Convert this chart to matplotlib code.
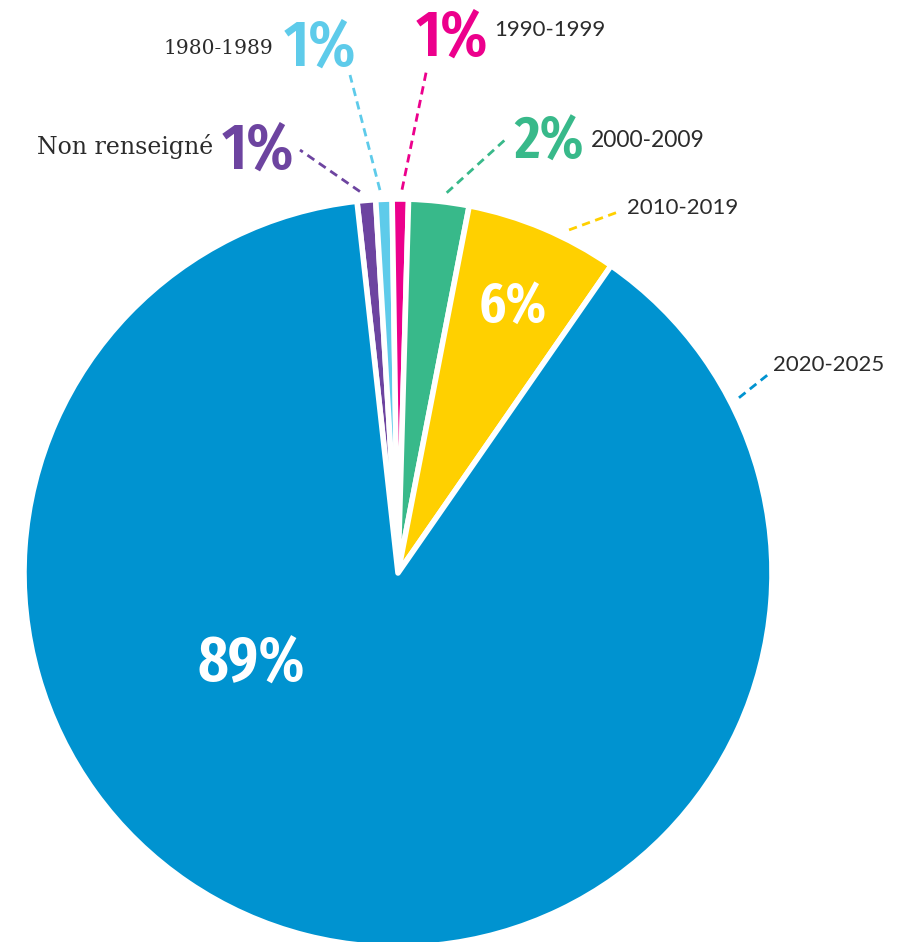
import os
import numpy as np
import matplotlib
matplotlib.use("Agg")
import matplotlib.pyplot as plt
from matplotlib import font_manager
from matplotlib.font_manager import FontProperties

# slices, clockwise from just left of 12 o'clock
categories = ["Non renseigné", "1980-1989", "1990-1999", "2000-2009", "2010-2019", "2020-2025"]
shares = [0.8, 0.7, 0.7, 2.6, 6.6, 88.6]
pct_labels = ["1%", "1%", "1%", "2%", "6%", "89%"]
colors = ["#6D44A0", "#5ECBEA", "#EC008C", "#38B98A", "#FFD000", "#0093D0"]

W, H = 909, 942
cx, cy, R = 398, H - 573, 374


def find_condensed():
    # look for a narrow, fairly heavy face among the installed files
    wanted = [("extracondensed", "semibold"), ("extracondensed", "medium"),
              ("extracondensed", "bold"), ("narrow", "bold"), ("condensed", "semibold"),
              ("condensed", "bold")]
    files = [f.fname for f in font_manager.fontManager.ttflist]
    for width, weight in wanted:
        for fname in sorted(files):
            fn = os.path.basename(fname).lower()
            if "italic" in fn or "oblique" in fn:
                continue
            if width == "condensed" and ("extra" in fn or "semicondensed" in fn):
                continue
            if width not in fn or weight not in fn:
                continue
            if weight == "bold" and ("semibold" in fn or "extrabold" in fn):
                continue
            return fname
    return None


found = find_condensed()
if found is not None:
    pct_fp = FontProperties(fname=found)
    pct_scale = 1.1
else:
    pct_fp = FontProperties(family="DejaVu Sans", weight="bold")
    pct_scale = 0.75

fig = plt.figure(figsize=(W / 100, H / 100), dpi=100)
ax = fig.add_axes([0, 0, 1, 1])

wedges, _ = ax.pie(shares, colors=colors, startangle=96.3, counterclock=False,
                   center=(cx, cy), radius=R, frame=True,
                   wedgeprops=dict(edgecolor="white", linewidth=4, joinstyle="round"))
ax.set_xlim(0, W)
ax.set_ylim(0, H)
ax.set_aspect("equal")
ax.axis("off")

# leader lines: start angle (deg clockwise from top), end point in px from top-left
lead_angle = [-5.7, -2.7, 0.6, 7.3, 26.5, 62.8]
lead_end = [(300, 150), (350, 75), (427, 68), (507, 138), (618, 212), (770, 373)]
for a, (ex, ey), c in zip(lead_angle, lead_end, colors):
    t = np.radians(a)
    r0 = R * 1.025
    sx, sy = cx + r0 * np.sin(t), cy + r0 * np.cos(t)
    ax.plot([sx, ex], [sy, H - ey], color=c, lw=2.0, ls=(0, (3, 2)), solid_capstyle="butt")

dark = "#2b2b2b"
serif = "DejaVu Serif"
sans = ["Lato", "DejaVu Sans"]

# category names (x, baseline y from top, ha, family, size)
cat_pos = [(213, 154, "right", serif, 17), (273, 54, "right", serif, 14.5),
           (494, 36, "left", sans, 16), (591, 147, "left", sans, 16.5),
           (627, 214, "left", sans, 16), (773, 371, "left", sans, 16)]
for name, (x, y, ha, fam, fs) in zip(categories, cat_pos):
    ax.text(x, H - y, name, ha=ha, va="baseline", family=fam, fontsize=fs, color=dark)

# percentages
pct_pos = [(222, 169, "left"), (284, 66, "left"), (416, 56, "left"),
           (514, 159, "left"), (513, 322, "center"), (251, 682, "center")]
pct_size = [43, 43, 43, 40, 37, 42]
pct_color = colors[:4] + ["white", "white"]
for lab, (x, y, ha), fs, c in zip(pct_labels, pct_pos, pct_size, pct_color):
    fp = pct_fp.copy()
    fp.set_size(fs * pct_scale)
    ax.text(x, H - y, lab, ha=ha, va="baseline", fontproperties=fp, color=c)

fig.savefig("out.png", dpi=100)
